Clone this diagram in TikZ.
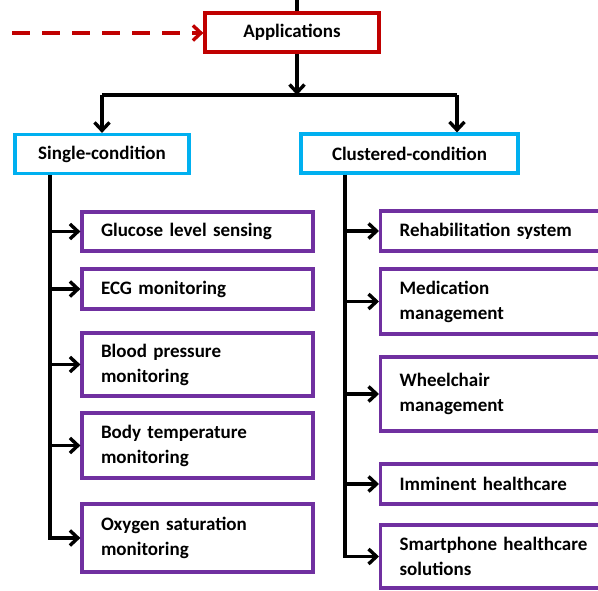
\documentclass[tikz,border=0pt]{standalone}
\usepackage{fontspec}
\setmainfont{Carlito}
\usetikzlibrary{arrows.meta,positioning,calc}
\definecolor{appred}{HTML}{C00000}
\definecolor{condblue}{HTML}{00B0F0}
\definecolor{itempurple}{HTML}{7030A0}
\tikzset{
  basebox/.style={draw, line width=3.2pt, fill=white, font=\fontsize{19}{25}\selectfont\bfseries, inner sep=0pt},
  appbox/.style={basebox, draw=appred, minimum width=174pt, minimum height=39pt},
  condbox/.style={basebox, draw=condblue, minimum height=39pt},
  itembox/.style={basebox, draw=itempurple, inner xsep=19pt, align=left, text width=193pt},
  ritembox/.style={basebox, draw=itempurple, inner xsep=19pt, align=left, text width=215pt},
  conn/.style={line width=3.4pt, black},
  arr/.style={conn, -{Straight Barb[length=8pt,width=15pt,line width=3.4pt]}},
  redarr/.style={line width=3.4pt, appred, dash pattern=on 18pt off 12pt, -{Straight Barb[length=8pt,width=15pt,line width=3.4pt]}}
}
\begin{document}
\begin{tikzpicture}[x=1pt,y=-1pt]
\useasboundingbox (0,0) rectangle (598,590);
% top node
\node[appbox] (app) at (292,32.5) {Applications};
\node[condbox, minimum width=174pt] (single) at (102,154) {Single-condition};
\node[condbox, minimum width=217pt] (clustered) at (409.5,153.5) {Clustered-condition};
% left items
\node[itembox, minimum height=39pt] (glucose) at (197.5,231.5) {Glucose level sensing};
\node[itembox, minimum height=40pt] (ecg) at (197.5,289) {ECG monitoring};
\node[itembox, minimum height=63pt] (blood) at (197.5,364.5) {Blood pressure\\monitoring};
\node[itembox, minimum height=65pt] (body) at (197.5,445.5) {Body temperature\\monitoring};
\node[itembox, minimum height=68pt] (oxygen) at (197.5,538) {Oxygen saturation\\monitoring};
% right items
\node[ritembox, minimum height=40pt, anchor=west] (rehab) at (379,231) {Rehabilitation system};
\node[ritembox, minimum height=65pt, anchor=west] (medication) at (379,301.5) {Medication\\management};
\node[ritembox, minimum height=74pt, anchor=west] (wheelchair) at (379,394) {Wheelchair\\management};
\node[ritembox, minimum height=40pt, anchor=west] (imminent) at (379,484) {Imminent healthcare};
\node[ritembox, minimum height=63pt, anchor=west] (smartphone) at (379,556.5) {Smartphone healthcare\\solutions};
% coordinates
\coordinate (top) at (297,0);
\coordinate (split) at (297,95);
\coordinate (lsplit) at (102,95);
\coordinate (rsplit) at (457,95);
\coordinate (ltrunk) at (50,0);
\coordinate (rtrunk) at (345,0);
\coordinate (redstart) at (12,33);
% connectors
\draw[redarr] (redstart) -- (redstart -| app.west);
\draw[conn] (top) -- (top |- app.north);
\draw[arr] (top |- app.south) -- (split);
\draw[conn] (lsplit) -- (rsplit);
\draw[arr] (lsplit) -- (single.north);
\draw[arr] (rsplit) -- (rsplit |- clustered.north);
% left trunk
\draw[arr] (ltrunk |- single.south) |- (oxygen.west);
\foreach \n in {glucose,ecg,blood,body}
  \draw[arr] (ltrunk |- \n.west) -- (\n.west);
% right trunk
\draw[arr] (rtrunk |- clustered.south) |- (smartphone.west);
\foreach \n in {rehab,medication,wheelchair,imminent}
  \draw[arr] (rtrunk |- \n.west) -- (\n.west);
\end{tikzpicture}
\end{document}
